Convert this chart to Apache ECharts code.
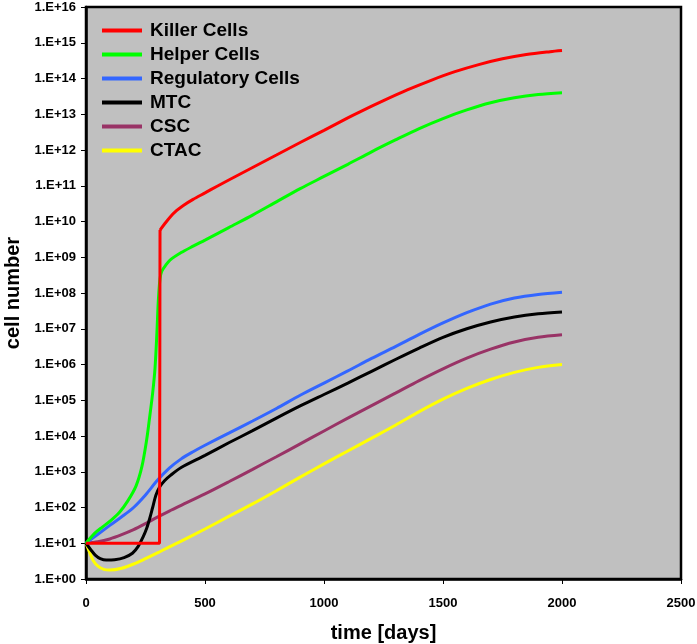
<!DOCTYPE html>
<html>
<head>
<meta charset="utf-8">
<script src="https://cdn.jsdelivr.net/npm/echarts@6/dist/echarts.min.js"></script>
<style>html,body{margin:0;padding:0;background:#fff;}#c{width:697px;height:644px;}</style>
</head>
<body>
<div id="c"></div>
<script>
// ---- data (time in days, cell numbers) ----
const seriesNames = ['Killer Cells','Helper Cells','Regulatory Cells','MTC','CSC','CTAC'];
const xTicks = [0,500,1000,1500,2000,2500];

// Killer cells: flat start + jump, then growth curve
const killerStepT = [0,309,311];
const killerStepV = [1e1,1e1,5.75e9];
const killerT = [311,330,353,380,409,450,500,549,600,700,800,900,1000,1100,1151,1250,1350,1450,1550,1650,1750,1850,1950,2000];
const killerV = [5.75e9,8.5e9,1.32e10,2e10,2.82e10,4.17e10,6.31e10,9.55e10,1.45e11,3.24e11,7.24e11,1.62e12,3.55e12,7.94e12,1.17e13,2.4e13,4.79e13,8.91e13,1.55e14,2.45e14,3.55e14,4.68e14,5.62e14,6.03e14];

const helperT = [0,35,70,105,140,175,210,235,255,266,280,290,298,304,311,318,335,353,400,450,500,600,700,800,900,1000,1100,1200,1300,1400,1500,1600,1700,1800,1900,2000];
const helperV = [1e1,1.86e1,2.88e1,4.37e1,7.24e1,1.51e2,3.98e2,1.41e3,7.94e3,2.82e4,1.58e5,7.94e5,7.94e6,6.31e7,2.51e8,4e8,6e8,8.3e8,1.35e9,2.04e9,3.02e9,6.76e9,1.51e10,3.55e10,8.32e10,1.82e11,3.98e11,8.91e11,1.91e12,3.98e12,7.59e12,1.32e13,2.09e13,2.88e13,3.55e13,3.98e13];

const regT = [0,50,100,150,200,250,300,350,400,450,500,600,700,800,900,1000,1100,1200,1300,1400,1500,1600,1700,1800,1900,2000];
const regV = [1e1,1.78e1,3.16e1,5.5e1,1e2,2.24e2,5.75e2,1.26e3,2.29e3,3.63e3,5.5e3,1.2e4,2.63e4,5.89e4,1.38e5,3.02e5,6.61e5,1.48e6,3.16e6,6.92e6,1.45e7,2.82e7,4.9e7,7.24e7,9.12e7,1.05e8];

const mtcT = [0,20,40,60,85,120,160,195,220,240,255,268,280,294,310,330,355,400,500,600,700,800,900,1000,1100,1200,1300,1400,1500,1600,1700,1800,1900,2000];
const mtcV = [1e1,6.6,4.57,3.72,3.39,3.47,3.98,5.25,8.32,1.51e1,2.63e1,5.01e1,1e2,2.24e2,3.8e2,5.62e2,7.94e2,1.32e3,2.88e3,6.46e3,1.41e4,3.16e4,6.92e4,1.45e5,3.02e5,6.46e5,1.38e6,2.88e6,5.75e6,1e7,1.55e7,2.14e7,2.63e7,2.95e7];

const cscT = [0,50,100,150,200,250,300,350,400,500,600,700,800,900,1000,1100,1200,1300,1400,1500,1600,1700,1800,1900,2000];
const cscV = [1e1,1.1e1,1.32e1,1.74e1,2.4e1,3.55e1,5.37e1,7.94e1,1.15e2,2.4e2,5.25e2,1.17e3,2.63e3,6.03e3,1.38e4,3.16e4,7.08e4,1.58e5,3.55e5,7.59e5,1.51e6,2.69e6,4.27e6,5.75e6,6.76e6];

const ctacT = [0,15,30,50,75,100,150,200,250,300,350,400,500,600,700,800,900,1000,1100,1200,1300,1400,1500,1600,1700,1800,1900,2000];
const ctacV = [1e1,5.62,3.31,2.29,1.86,1.78,2.0,2.63,3.72,5.37,7.94,1.15e1,2.51e1,5.62e1,1.26e2,2.95e2,7.08e2,1.66e3,3.8e3,8.71e3,2e4,4.79e4,1.07e5,2.14e5,3.8e5,6.03e5,8.32e5,1e6];

const colors = ['#FF0000','#00FF00','#3366FF','#000000','#993366','#FFFF00'];
const times = [killerT,helperT,regT,mtcT,cscT,ctacT];
const vals = [killerV,helperV,regV,mtcV,cscV,ctacV];

const FONT = '"Liberation Sans", Arial, sans-serif';
const chart = echarts.init(document.getElementById('c'), null, {renderer:'canvas'});

const series = seriesNames.map((n,i)=>({
  name:n, type:'line', showSymbol:false, symbol:'none',
  smooth: 0.3,
  lineStyle:{color:colors[i], width:3},
  itemStyle:{color:colors[i]},
  z: 10-i,
  data: times[i].map((t,k)=>[t, vals[i][k]])
}));
series.push({
  name:seriesNames[0], type:'line', showSymbol:false, symbol:'none', smooth:false,
  lineStyle:{color:colors[0], width:3}, itemStyle:{color:colors[0]}, z:10,
  data: killerStepT.map((t,k)=>[t, killerStepV[k]])
});

chart.setOption({
  animation:false,
  backgroundColor:'#ffffff',
  grid:{left:86,right:16,top:7,bottom:65,outerBoundsMode:'none',containLabel:false,show:true,backgroundColor:'#C0C0C0',borderColor:'#000',borderWidth:2.5},
  legend:{
    orient:'vertical', left:97, top:16, itemWidth:40, itemHeight:4, itemGap:5,
    icon:'rect',
    textStyle:{fontFamily:FONT,fontWeight:'bold',fontSize:19,color:'#000',padding:[0,0,0,3]},
    data:seriesNames
  },
  xAxis:{
    type:'value', min:0, max:2500, interval:500,
    name:'time [days]', nameLocation:'middle', nameGap:44,
    nameTextStyle:{fontFamily:FONT,fontWeight:'bold',fontSize:20,color:'#000'},
    axisLine:{show:true,onZero:false,lineStyle:{color:'#000',width:2.5}},
    axisTick:{show:true,inside:false,length:5,lineStyle:{color:'#000',width:1}},
    axisLabel:{fontFamily:FONT,fontWeight:'bold',fontSize:13,color:'#000',margin:18,
      formatter:(v)=> xTicks.includes(v) ? String(v) : ''},
    splitLine:{show:false}
  },
  yAxis:{
    type:'log', logBase:10, min:1, max:1e16, interval:1,
    name:'cell number', nameLocation:'middle', nameGap:60,
    nameTextStyle:{fontFamily:FONT,fontWeight:'bold',fontSize:20,color:'#000'},
    axisLine:{show:true,lineStyle:{color:'#000',width:2.5}},
    axisTick:{show:true,inside:false,length:5,lineStyle:{color:'#000',width:1}},
    axisLabel:{fontFamily:FONT,fontWeight:'bold',fontSize:13,color:'#000',margin:10,
      formatter:(v)=>{const e=Math.round(Math.log10(v));return '1.E+'+(e<10?'0':'')+e;}},
    splitLine:{show:false},
    minorTick:{show:false}
  },
  series:series
});
</script>
</body>
</html>
